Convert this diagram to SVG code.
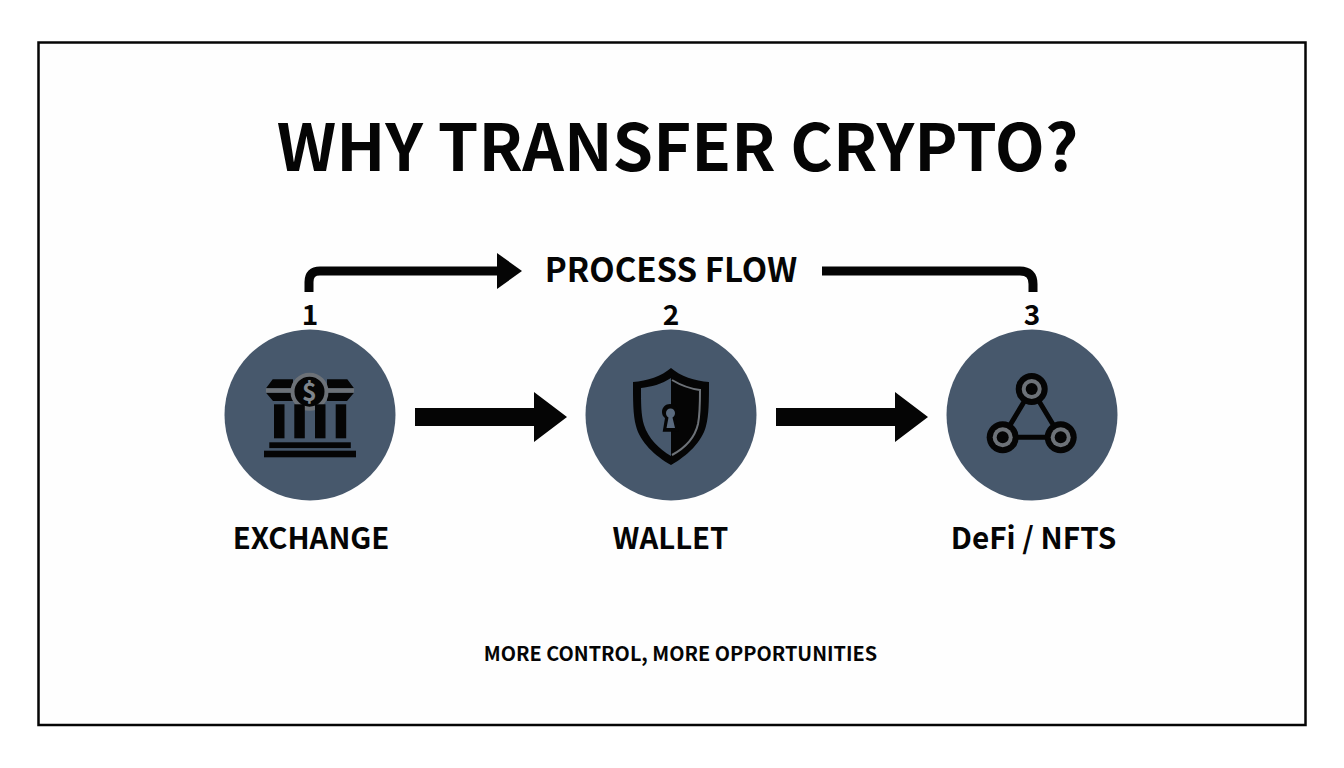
<svg xmlns="http://www.w3.org/2000/svg" width="1344" height="768" viewBox="0 0 1344 768">
<style>
text{font-family:"Noto Sans CJK SC","Noto Sans",sans-serif;font-weight:700;fill:#050505;text-anchor:middle}
.c{fill:#47586c}
.k{fill:#050505}
.g{fill:#6d7278}
.l{fill:none;stroke:#050505;stroke-width:9}
</style>
<rect width="1344" height="768" fill="#fff"/>
<rect x="38.500" y="42.500" width="1267" height="682.500" fill="#fefefe" stroke="#050505" stroke-width="2.500"/>
<text id="title" x="677.500" y="171" font-size="65">WHY TRANSFER CRYPTO?</text>
<text id="flow-label" x="671" y="282" font-size="33">PROCESS FLOW</text>
<g id="connectors">
<path class="l" d="M309 292V282Q309 271 320 271H500"/>
<path class="k" d="M497 253L522 271L497 289Z"/>
<path class="l" d="M822 271H1020Q1033 271 1033 284V292"/>
<path class="k" d="M415 408H534V392L567 417L534 442V426H415Z"/>
<path class="k" d="M776 408H895V392L928 417L895 442V426H776Z"/>
</g>
<g id="node-exchange">
<text x="310" y="325" font-size="28">1</text>
<circle class="c" cx="310" cy="415" r="85.500"/>
<path class="k" d="M272.700 379.300H293V388.300H266ZM347.300 379.300H327V388.300H354ZM266 392.700H293V401H273ZM354 392.700H327V401H347Z"/>
<rect class="g" x="266" y="388.300" width="88" height="4.400"/>
<circle class="k" cx="309.500" cy="391.700" r="17" stroke="#6d7278" stroke-width="4"/>
<text x="309.500" y="400.500" font-size="25" style="fill:#7f858c">$</text>
<rect class="k" x="274" y="404.300" width="10.500" height="34"/>
<rect class="k" x="294.300" y="404.300" width="10.500" height="34"/>
<rect class="k" x="315" y="404.300" width="10.500" height="34"/>
<rect class="k" x="335.700" y="404.300" width="10.500" height="34"/>
<rect class="k" x="269.300" y="442.300" width="81.500" height="5.800"/>
<rect class="k" x="264" y="450.700" width="92" height="6.600"/>
<text x="311" y="549" font-size="29.300">EXCHANGE</text>
</g>
<g id="node-wallet">
<text x="671" y="325" font-size="28">2</text>
<circle class="c" cx="671" cy="415" r="85.500"/>
<path class="k" fill-rule="evenodd" d="M671 368C680 376 695 381 709 382C709 400 709 415 706 426C702 442 687 456 671 465C655 456 640 442 636 426C633 415 633 400 633 382C647 381 662 376 671 368ZM671 378C662 384 651 387 641 388C641 403 641 415 644 425C648 438 659 449 671 456Z"/>
<path d="M672 380C682 386 692 389 700 390C700 403 700 414 698 424C695 437 685 448 672 455" fill="none" stroke="#6d7278" stroke-width="2"/>
<path class="k" d="M670 404C674.500 404 678 407.500 678 412C678 414.500 677 416.500 675.500 418L679 431.700H662.700L665 418C663 416.500 662 414.500 662 412C662 407.500 665.500 404 670 404Z"/>
<path style="fill:#5a6a7e" d="M670.500 408.500C673 408.500 675 410.500 675 413C675 415 674 416.500 672.500 417.500L675 428H666.500L668.500 417.500C667 416.500 666 415 666 413C666 410.500 668 408.500 670.500 408.500Z"/>
<text x="670.500" y="549" font-size="29.300">WALLET</text>
</g>
<g id="node-defi">
<text x="1032" y="325" font-size="28">3</text>
<circle class="c" cx="1032" cy="415" r="85.500"/>
<path d="M1031.700 389L1002.700 437.300H1060.700Z" fill="none" stroke="#050505" stroke-width="5"/>
<circle class="k" cx="1031.700" cy="389" r="16"/><circle class="g" cx="1031.700" cy="389" r="10"/><circle class="k" cx="1031.700" cy="389" r="6"/>
<circle class="k" cx="1002.700" cy="437.300" r="16"/><circle class="g" cx="1002.700" cy="437.300" r="10"/><circle class="k" cx="1002.700" cy="437.300" r="6"/>
<circle class="k" cx="1060.700" cy="437.300" r="16"/><circle class="g" cx="1060.700" cy="437.300" r="10"/><circle class="k" cx="1060.700" cy="437.300" r="6"/>
<text x="1033.500" y="549" font-size="29.700">DeFi / NFTS</text>
</g>
<text id="caption" x="680.500" y="661" font-size="19.850">MORE CONTROL, MORE OPPORTUNITIES</text>
</svg>
